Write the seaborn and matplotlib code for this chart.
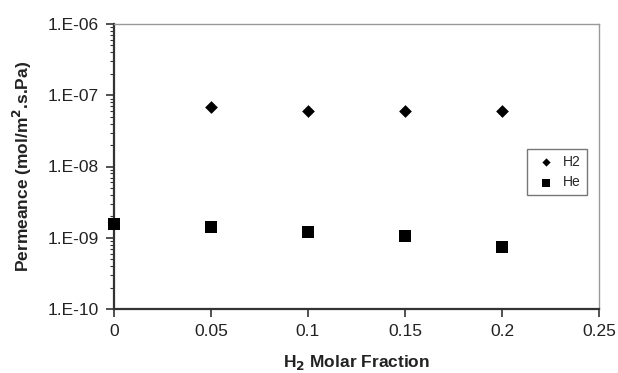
import matplotlib
matplotlib.use("Agg")
import matplotlib.pyplot as plt
import matplotlib.ticker as mticker
import seaborn as sns
import pandas as pd
import numpy as np

h2_x = [0.05, 0.10, 0.15, 0.20]
h2_y = [6.8e-8, 6.1e-8, 5.95e-8, 5.95e-8]
he_x = [0.0, 0.05, 0.10, 0.15, 0.20]
he_y = [1.56e-9, 1.43e-9, 1.19e-9, 1.07e-9, 7.5e-10]
x_ticks = [0, 0.05, 0.1, 0.15, 0.2, 0.25]
x_tick_labels = ["0", "0.05", "0.1", "0.15", "0.2", "0.25"]
y_ticks = [1e-10, 1e-9, 1e-8, 1e-7, 1e-6]
y_tick_labels = ["1.E-10", "1.E-09", "1.E-08", "1.E-07", "1.E-06"]

df = pd.concat([
    pd.DataFrame({"x": h2_x, "y": h2_y, "Gas": "H2"}),
    pd.DataFrame({"x": he_x, "y": he_y, "Gas": "He"}),
], ignore_index=True)

sns.set_style("white")
plt.rcParams["font.family"] = ["Liberation Sans", "DejaVu Sans"]

fig = plt.figure(figsize=(6.18, 3.73), dpi=100)
ax = fig.add_axes([114/618, 1-309/373, (599-114)/618, (309-24)/373])

for gas, mk, ms in [("H2", "D", 42), ("He", "s", 78)]:
    sub = df[df["Gas"] == gas]
    sns.scatterplot(x=sub["x"], y=sub["y"], marker=mk, s=ms, color="black",
                    edgecolor="black", linewidth=0, ax=ax, label=gas,
                    clip_on=False, zorder=5)

ax.set_yscale("log")
ax.set_xlim(0, 0.25)
ax.set_ylim(1e-10, 1e-6)
ax.set_xticks(x_ticks)
ax.set_xticklabels(x_tick_labels, fontsize=12.5, color="#222222")
ax.set_yticks(y_ticks)
ax.set_yticklabels(y_tick_labels, fontsize=12.5, color="#222222")
ax.yaxis.set_minor_locator(mticker.LogLocator(base=10, subs=np.arange(2, 10)))
ax.yaxis.set_minor_formatter(mticker.NullFormatter())
ax.tick_params(axis="both", which="major", direction="out", length=6, width=1.2,
               color="#333333", left=True, bottom=True, pad=5)
ax.tick_params(axis="y", which="minor", direction="out", length=3, width=0.8,
               color="#333333", left=True)

for side in ["left", "bottom"]:
    ax.spines[side].set_color("#333333")
    ax.spines[side].set_linewidth(1.6)
for side in ["top", "right"]:
    ax.spines[side].set_color("#999999")
    ax.spines[side].set_linewidth(1.0)

ax.set_xlabel("H$_\\mathbf{2}$ Molar Fraction", fontsize=12.5, fontweight="bold",
              color="#222222", labelpad=10)
ax.set_ylabel("Permeance (mol/m$^\\mathbf{2}$.s.Pa)", fontsize=12.5, fontweight="bold",
              color="#222222", labelpad=10)

leg = ax.legend(loc="upper left", bbox_to_anchor=((527-114)/485, 1-(149-24)/285),
                borderaxespad=0, frameon=True, fancybox=False, edgecolor="#555555",
                fontsize=10, handletextpad=0.3, borderpad=0.4, labelspacing=0.5,
                handlelength=1.9, markerscale=0.65)
leg.get_frame().set_linewidth(1.0)

fig.savefig("out.png", dpi=100)
